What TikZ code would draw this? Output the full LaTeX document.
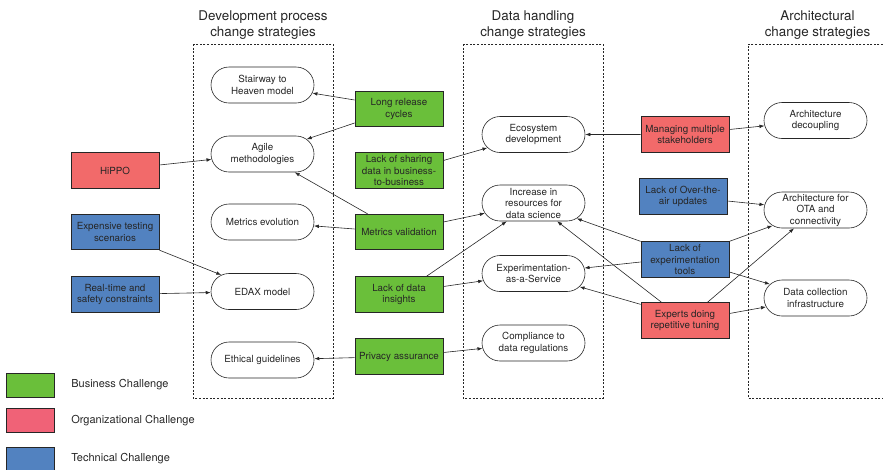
\documentclass[tikz,border=0pt]{standalone}
\usepackage{fontspec}
\setmainfont{TeX Gyre Heros}
\usetikzlibrary{shapes.misc,arrows.meta}

\definecolor{bizgreen}{HTML}{6ABF3A}
\definecolor{orgred}{HTML}{F26A6A}
\definecolor{orgpink}{HTML}{F06277}
\definecolor{techblue}{HTML}{5282C0}
\definecolor{inkgray}{HTML}{262626}

\begin{document}
\begin{tikzpicture}[x=1pt, y=-1pt, line width=0.6pt, color=inkgray,
        >={Latex[length=5pt,width=3.6pt]},
        strat/.style={draw, rounded rectangle, minimum width=105pt, minimum height=36pt, inner sep=1pt, align=center, font=\fontsize{9.8}{11.5}\selectfont},
        chal/.style={draw, rectangle, minimum width=88pt, minimum height=35.5pt, inner sep=1pt, align=center, font=\fontsize{9.8}{11.5}\selectfont, line width=0.8pt},
        lanetitle/.style={align=center, font=\fontsize{13.4}{16}\selectfont},
        lane/.style={dashed, dash pattern=on 2pt off 1.6pt},
        legbox/.style={draw, rectangle, minimum width=48pt, minimum height=24pt, line width=0.8pt},
        legtext/.style={anchor=west, inner sep=0pt, font=\fontsize{11}{13}\selectfont}]

            \useasboundingbox (0,0) rectangle (883,469);

            \node[lanetitle] (devtitle) at (263,25) {Development process\\change strategies};
            \node[lanetitle] (datatitle) at (533,25) {Data handling\\change strategies};
            \node[lanetitle] (archtitle) at (817.5,25) {Architectural\\change strategies};

            \draw[lane] (193,44) rectangle (333,398);
            \draw[lane] (463,44) rectangle (603,398);
            \draw[lane] (883,44) -- (748,44) -- (748,398) -- (883,398);

            \node[strat] (stair) at (262.5,85) {Stairway to\\Heaven model};
            \node[strat] (agile) at (262.5,154) {Agile\\methodologies};
            \node[strat] (metev) at (262.5,222) {Metrics evolution};
            \node[strat] (edax) at (262.5,291.5) {EDAX model};
            \node[strat] (ethic) at (262.5,360) {Ethical guidelines};

            \node[strat] (eco) at (533.5,134.5) {Ecosystem\\development};
            \node[strat] (incr) at (533.5,203) {Increase in\\resources for\\data science};
            \node[strat] (eaas) at (533.5,273.5) {Experimentation-\\as-a-Service};
            \node[strat] (compl) at (533.5,343) {Compliance to\\data regulations};

            \node[strat] (archdec) at (815.5,120.5) {Architecture\\decoupling};
            \node[strat] (archota) at (815.5,210) {Architecture for\\OTA and\\connectivity};
            \node[strat] (datacoll) at (815.5,298) {Data collection\\infrastructure};

            \node[chal, fill=bizgreen] (lrc) at (399,109) {Long release\\cycles};
            \node[chal, fill=bizgreen] (lsd) at (399,170.5) {Lack of sharing\\data in business-\\to-business};
            \node[chal, fill=bizgreen] (mval) at (399,232) {Metrics validation};
            \node[chal, fill=bizgreen] (ldi) at (399,294.5) {Lack of data\\insights};
            \node[chal, fill=bizgreen] (priv) at (399,356.5) {Privacy assurance};

            \node[chal, fill=orgred] (hippo) at (115,170.5) {HiPPO};
            \node[chal, fill=techblue] (ets) at (115,232) {Expensive testing\\scenarios};
            \node[chal, fill=techblue] (rts) at (115,294.5) {Real-time and\\safety constraints};

            \node[chal, fill=orgred] (mms) at (685,134.5) {Managing multiple\\stakeholders};
            \node[chal, fill=techblue] (lota) at (683,196.5) {Lack of Over-the-\\air updates};
            \node[chal, fill=techblue] (lexp) at (685,259.5) {Lack of\\experimentation\\tools};
            \node[chal, fill=orgred] (expert) at (685,320.5) {Experts doing\\repetitive tuning};

            \draw[->] ([yshift=9pt]lrc.west) -- (stair);
            \draw[->] ([yshift=-14pt]lrc.west) -- (agile);
            \draw[->] ([yshift=5.5pt]hippo.east) -- (agile);
            \draw[->] ([xshift=13pt]mval.north west) -- (agile);
            \draw[->] ([yshift=3pt]mval.west) -- (metev);
            \draw[->] (ets.south east) -- (edax);
            \draw[->] (rts) -- (edax);
            \draw[->] (priv) -- (ethic);

            \draw[->] ([yshift=10pt]lsd.east) -- (eco);
            \draw[->] ([yshift=10pt]mval.east) -- (incr);
            \draw[->] ([xshift=-17pt]ldi.north east) -- (incr);
            \draw[->] ([yshift=8pt]ldi.east) -- (eaas);
            \draw[->] ([yshift=4pt]priv.east) -- (compl);

            \draw[->] (mms) -- (eco);
            \draw[->] ([yshift=5pt]mms.east) -- (archdec);
            \draw[->] ([yshift=-4.5pt]lota.east) -- (archota);
            \draw[->] (lexp.north west) -- (incr);
            \draw[->] ([yshift=-2.5pt]lexp.west) -- (eaas);
            \draw[->] (lexp.north east) -- (archota);
            \draw[->] ([yshift=-12.5pt]lexp.east) -- (datacoll);
            \draw[->] ([xshift=21pt]expert.north west) -- (incr);
            \draw[->] ([yshift=-2pt]expert.north west) -- (eaas);
            \draw[->] ([xshift=-22pt]expert.north east) -- (archota);
            \draw[->] ([yshift=7pt]expert.east) -- (datacoll);

            \node[legbox, fill=bizgreen] (legbiz) at (30,385) {};
            \node[legbox, fill=orgpink] (legorg) at (30,420.5) {};
            \node[legbox, fill=techblue] (legtec) at (30,459) {};
            \node[legtext] (legbiztxt) at (71,385) {Business Challenge};
            \node[legtext] (legorgtxt) at (71,421) {Organizational Challenge};
            \node[legtext] (legtectxt) at (71,459) {Technical Challenge};

\end{tikzpicture}
\end{document}
